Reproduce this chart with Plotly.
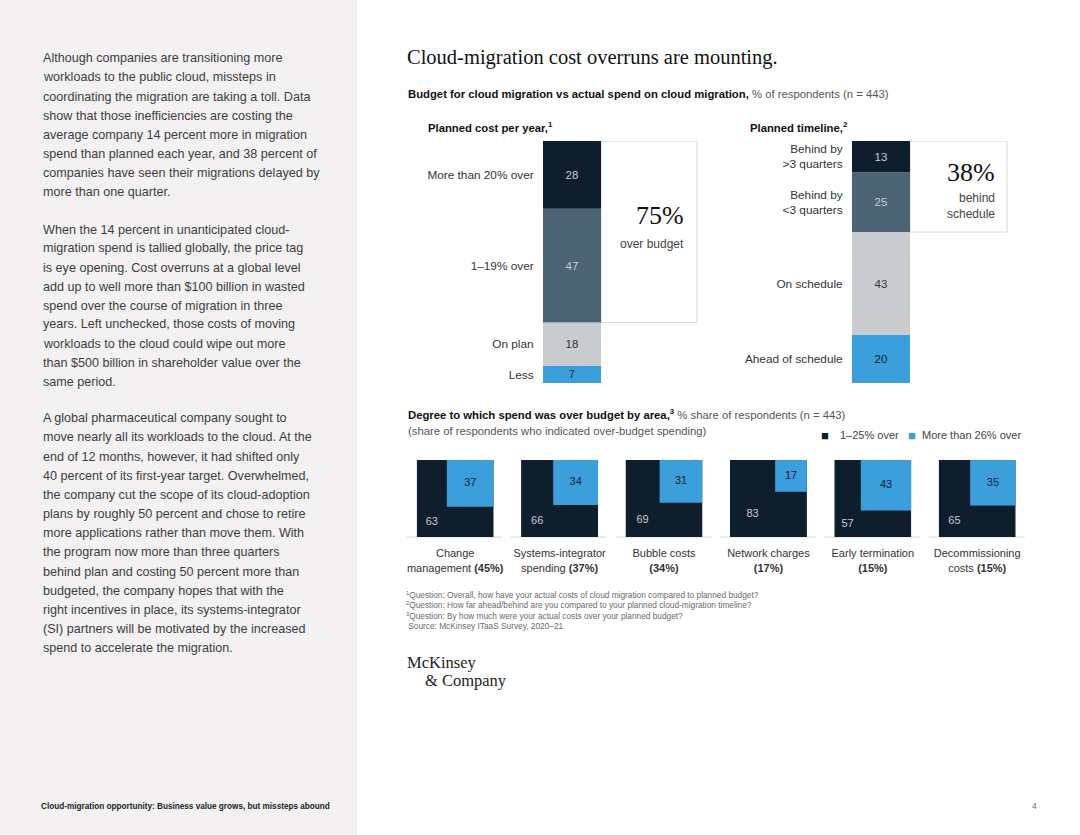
import numpy as np
import plotly.graph_objects as go

W, H = 1080, 835
SANS = "Liberation Sans, Arial, Helvetica, sans-serif"
SERIF = "Liberation Serif, Times New Roman, serif"

# ---------------- data ----------------
cost_categories = ["Less", "On plan", "1–19% over", "More than 20% over"]
cost_values = [7, 18, 47, 28]

timeline_categories = ["Ahead of schedule", "On schedule",
                       "Behind by<br>&lt;3 quarters", "Behind by<br>&gt;3 quarters"]
timeline_values = [20, 43, 25, 13]

area_labels = ["Change<br>management", "Systems-integrator<br>spending", "Bubble costs",
               "Network charges", "Early termination", "Decommissioning<br>costs"]
area_share = [45, 37, 34, 17, 15, 15]
area_low = [63, 66, 69, 83, 57, 65]      # 1–25% over
area_high = [37, 34, 31, 17, 43, 35]     # More than 26% over
legend_names = ["1–25% over", "More than 26% over"]

para1 = ["Although companies are transitioning more",
         "workloads to the public cloud, missteps in",
         "coordinating the migration are taking a toll. Data",
         "show that those inefficiencies are costing the",
         "average company 14 percent more in migration",
         "spend than planned each year, and 38 percent of",
         "companies have seen their migrations delayed by",
         "more than one quarter."]
para2 = ["When the 14 percent in unanticipated cloud-",
         "migration spend is tallied globally, the price tag",
         "is eye opening. Cost overruns at a global level",
         "add up to well more than $100 billion in wasted",
         "spend over the course of migration in three",
         "years. Left unchecked, those costs of moving",
         "workloads to the cloud could wipe out more",
         "than $500 billion in shareholder value over the",
         "same period."]
para3 = ["A global pharmaceutical company sought to",
         "move nearly all its workloads to the cloud. At the",
         "end of 12 months, however, it had shifted only",
         "40 percent of its first-year target. Overwhelmed,",
         "the company cut the scope of its cloud-adoption",
         "plans by roughly 50 percent and chose to retire",
         "more applications rather than move them. With",
         "the program now more than three quarters",
         "behind plan and costing 50 percent more than",
         "budgeted, the company hopes that with the",
         "right incentives in place, its systems-integrator",
         "(SI) partners will be motivated by the increased",
         "spend to accelerate the migration."]
footnotes = ["<sup>1</sup>Question: Overall, how have your actual costs of cloud migration compared to planned budget?",
             "<sup>2</sup>Question: How far ahead/behind are you compared to your planned cloud-migration timeline?",
             "<sup>3</sup>Question: By how much were your actual costs over your planned budget?",
             " Source: McKinsey ITaaS Survey, 2020–21"]

# ---------------- styles ----------------
DARK = "#0f1e2c"
SLATE = "#4c6474"
LGRAY = "#c9ccce"
BLUE = "#3a9fdb"
TXT = "#333333"
seg_colors = [BLUE, LGRAY, SLATE, DARK]
seg_text_colors = ["#13222f", "#333333", "#c6cdd3", "#c6cdd3"]

fig = go.Figure()
layout = {}
ann = []
shapes = []


def A(x, y, text, size, color=TXT, family=SANS, xanchor="left", yanchor="middle", align="left"):
    ann.append(dict(x=x / W, y=1 - y / H, xref="paper", yref="paper", text=text,
                    showarrow=False, xanchor=xanchor, yanchor=yanchor, align=align,
                    borderpad=0, font=dict(family=family, size=size, color=color)))


# left panel background
shapes.append(dict(type="rect", xref="paper", yref="paper", x0=0, x1=357 / W, y0=0, y1=1,
                   fillcolor="#f3f1f2", line=dict(width=0), layer="below"))


def stacked(values, cats, n, x0, x1, y_top, y_bot, box_x1, box_n):
    values = np.array(values, dtype=float)
    bases = np.concatenate([[0], np.cumsum(values)[:-1]])
    total = values.sum()
    xa, ya = ("x", "y") if n == 1 else (f"x{n}", f"y{n}")
    fig.add_trace(go.Bar(
        x=[0] * len(values), y=values, base=bases, width=[1] * len(values),
        marker=dict(color=seg_colors, line=dict(width=0)),
        text=[str(int(v)) for v in values], textposition="inside",
        insidetextanchor="middle", textangle=0,
        textfont=dict(family=SANS, size=11.5, color=seg_text_colors),
        xaxis=xa, yaxis=ya, hoverinfo="skip", showlegend=False))
    kx = "xaxis" if n == 1 else f"xaxis{n}"
    ky = "yaxis" if n == 1 else f"yaxis{n}"
    layout[kx] = dict(domain=[x0 / W, x1 / W], range=[-0.5, 0.5], visible=False,
                      anchor=ya, fixedrange=True, automargin=False)
    layout[ky] = dict(domain=[1 - y_bot / H, 1 - y_top / H], range=[0, total],
                      tickvals=list(bases + values / 2), ticktext=cats,
                      ticks="outside", ticklen=6, tickcolor="rgba(0,0,0,0)",
                      showgrid=False, zeroline=False, showline=False, anchor=xa,
                      fixedrange=True, automargin=False,
                      tickfont=dict(family=SANS, size=11.8, color=TXT))
    over = values[-box_n:].sum()
    shapes.append(dict(type="rect", xref="paper", yref=ya, x0=x1 / W, x1=box_x1 / W,
                       y0=total - over, y1=total, fillcolor="white",
                       line=dict(color="#d8d8d8", width=1), layer="below"))
    return int(over)


over_budget = stacked(cost_values, cost_categories, 1, 543, 601, 141, 383, 697, 2)
behind = stacked(timeline_values, timeline_categories, 2, 852, 910, 141, 383, 1007, 2)

A(685, 216, f"{over_budget}%", 26, color="#111111", family=SERIF, xanchor="right")
A(685, 244, "over budget", 12, color="#444444", xanchor="right")
A(996, 172, f"{behind}%", 26, color="#111111", family=SERIF, xanchor="right")
A(996, 206, "behind<br>schedule", 12, color="#444444", xanchor="right", align="right")

# small multiples
sq_x0, sq_step, sq_size, sq_top, sq_bot = 416.7, 104.4, 77, 460, 537
for i in range(len(area_labels)):
    n = i + 3
    xa, ya = f"x{n}", f"y{n}"
    tot = (area_low[i] + area_high[i]) / 100
    s = np.sqrt(area_high[i] / (area_low[i] + area_high[i]))
    fig.add_trace(go.Bar(x=[tot / 2], y=[tot], base=[0], width=[tot],
                         marker=dict(color=DARK, line=dict(width=0)),
                         xaxis=xa, yaxis=ya, hoverinfo="skip", showlegend=False,
                         name=legend_names[0]))
    fig.add_trace(go.Bar(x=[1 - s / 2], y=[s], base=[1 - s], width=[s],
                         marker=dict(color=BLUE, line=dict(width=0)),
                         xaxis=xa, yaxis=ya, hoverinfo="skip", showlegend=False,
                         name=legend_names[1]))
    fig.add_trace(go.Scatter(x=[(1 - s) / 2, 1 - s / 2], y=[(1 - s) / 2, 1 - s / 2],
                             mode="text", text=[str(area_low[i]), str(area_high[i])],
                             textposition="middle center",
                             textfont=dict(family=SANS, size=11, color=["#c3cad0", "#13222f"]),
                             xaxis=xa, yaxis=ya, hoverinfo="skip", showlegend=False,
                             cliponaxis=False))
    lab = area_labels[i]
    sep = " " if "<br>" in lab else "<br>"
    x0 = sq_x0 + i * sq_step
    layout[f"xaxis{n}"] = dict(domain=[x0 / W, (x0 + sq_size) / W], range=[0, 1],
                               tickvals=[0.5], ticktext=[f"{lab}{sep}<b>({area_share[i]}%)</b>"],
                               ticks="outside", ticklen=6, tickcolor="rgba(0,0,0,0)",
                               showgrid=False, zeroline=False, showline=False,
                               anchor=ya, fixedrange=True, automargin=False,
                               tickfont=dict(family=SANS, size=11, color=TXT))
    layout[f"yaxis{n}"] = dict(domain=[1 - sq_bot / H, 1 - sq_top / H], range=[0, 1],
                               visible=False, anchor=xa, fixedrange=True, automargin=False)
    shapes.append(dict(type="line", xref="paper", yref="paper",
                       x0=(x0 - 10) / W, x1=(x0 + sq_size + 9) / W,
                       y0=1 - sq_bot / H, y1=1 - sq_bot / H,
                       line=dict(color="#d6d6d6", width=1), layer="below"))

# legend (text)
A(820, 435, f"<span style='color:{DARK}'>■</span>", 13)
A(839, 435, legend_names[0], 11, color="#444444")
A(907, 435, f"<span style='color:{BLUE}'>■</span>", 13)
A(921, 435, legend_names[1], 11, color="#444444")

# left panel text
for k, line in enumerate(para1):
    A(41.5, 58.3 + k * 19.14, line, 12.6, color="#3d3d3d")
for k, line in enumerate(para2):
    A(41.5, 229.5 + k * 19.0, line, 12.6, color="#3d3d3d")
for k, line in enumerate(para3):
    A(41.5, 418.3 + k * 19.17, line, 12.6, color="#3d3d3d")

# titles
A(406, 57, "Cloud-migration cost overruns are mounting.", 20.5, color="#111111", family=SERIF)
A(407, 94, "<b>Budget for cloud migration vs actual spend on cloud migration,</b>"
           "<span style='color:#555555'> % of respondents (n = 443)</span>", 11.3, color="#111111")
A(427, 127, "<b>Planned cost per year,<sup>1</sup></b>", 11.3, color="#111111")
A(749, 127, "<b>Planned timeline,<sup>2</sup></b>", 11.3, color="#111111")
A(407, 414, "<b>Degree to which spend was over budget by area,<sup>3</sup></b>"
           "<span style='color:#555555'> % share of respondents (n = 443)</span>", 11.3, color="#111111")
A(407, 431, "(share of respondents who indicated over-budget spending)", 11.3, color="#555555")

for k, line in enumerate(footnotes):
    A(405, 594.5 + k * 10.6, line, 8.3, color="#6a6a6a")

A(406, 662, "McKinsey", 16.5, color="#222222", family=SERIF)
A(424, 680, "&amp; Company", 16.5, color="#222222", family=SERIF)

A(40, 806, "<b>Cloud-migration opportunity: Business value grows, but missteps abound</b>", 8.2,
  color="#222222", family=SANS)
A(1031, 806, "4", 8.5, color="#666666")

fig.update_layout(
    width=W, height=H, margin=dict(l=0, r=0, t=0, b=0, pad=0, autoexpand=False),
    paper_bgcolor="white", plot_bgcolor="rgba(0,0,0,0)",
    barmode="overlay", showlegend=False,
    uniformtext=dict(minsize=11.5, mode="show"),
    annotations=ann, shapes=shapes, **layout)

fig.write_html("out.html", config={"responsive": False, "displayModeBar": False},
               post_script="document.body.style.margin='0';document.body.style.overflow='hidden';")
